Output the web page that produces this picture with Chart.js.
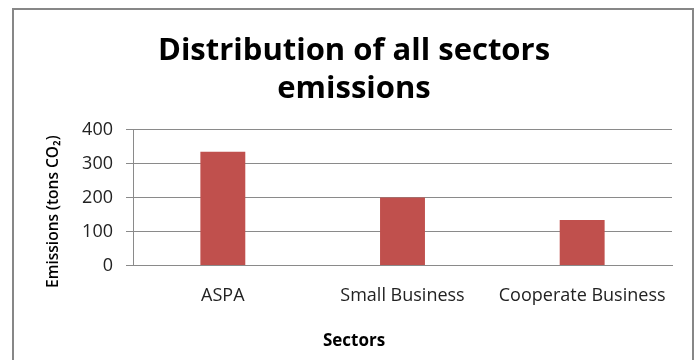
<!DOCTYPE html>
<html>
<head>
<meta charset="utf-8">
<script src="https://cdn.jsdelivr.net/npm/chart.js@4"></script>
<style>
  html, body { margin: 0; padding: 0; background: #ffffff; }
  #wrap { position: relative; width: 697px; height: 360px; overflow: hidden; background: #fff; }
  #frame { position: absolute; left: 12px; top: 8px; width: 678px; height: 400px; border: 2px solid #878787; }
  #c { position: absolute; left: 0; top: 0; }
</style>
</head>
<body>
<div id="wrap">
  <div id="frame"></div>
  <canvas id="c" width="697" height="360"></canvas>
</div>
<script>
const categories = ["ASPA", "Small Business", "Cooperate Business"];
const emissions = [335, 200, 134];
const yTicks = [0, 100, 200, 300, 400];
const titleLines = ["Distribution of all sectors", "emissions"];
const xTitle = "Sectors";
const yTitle = "Emissions (tons CO\u2082)";

const FONT = "'Open Sans', Lato, sans-serif";

new Chart(document.getElementById('c'), {
  type: 'bar',
  data: {
    labels: categories,
    datasets: [{
      data: emissions,
      backgroundColor: '#C0504D',
      borderWidth: 0,
      categoryPercentage: 0.5,
      barPercentage: 0.5
    }]
  },
  options: {
    responsive: false,
    animation: false,
    devicePixelRatio: 1,
    layout: { padding: { left: 36, right: 25, top: 0, bottom: 0 } },
    plugins: {
      legend: { display: false },
      tooltip: { enabled: false },
      title: {
        display: true,
        text: titleLines,
        color: '#000',
        font: { family: FONT, size: 31, weight: 'bold', lineHeight: 1.22 },
        padding: { top: 32, bottom: 22 }
      },
      subtitle: {
        display: true,
        position: 'bottom',
        text: xTitle,
        color: '#000',
        font: { family: FONT, size: 17, weight: 'bold', lineHeight: 1.2 },
        padding: { top: 0, bottom: 9 }
      }
    },
    scales: {
      x: {
        grid: { display: false, drawTicks: false },
        border: { display: true, color: '#8a8a8a', width: 1 },
        ticks: { color: '#222', padding: 19, font: { family: FONT, size: 18 } },
        afterFit: (s) => { s.height = 65; }
      },
      y: {
        min: 0,
        max: 400,
        afterBuildTicks: (s) => { s.ticks = yTicks.map(v => ({ value: v })); },
        grid: { color: '#8a8a8a', lineWidth: 1, tickLength: 7, drawTicks: true },
        border: { display: true, color: '#8a8a8a', width: 1 },
        ticks: { color: '#222', padding: 13, font: { family: FONT, size: 18 } },
        title: {
          display: true,
          text: yTitle + "\u00a0\u00a0\u00a0\u00a0\u00a0\u00a0\u00a0",
          color: '#000',
          font: { family: FONT, size: 15.5, weight: '600', lineHeight: 1.2 },
          padding: { top: 8, bottom: 0 }
        },
        afterFit: (s) => { s.width = 97; }
      }
    }
  }
});
</script>
</body>
</html>
